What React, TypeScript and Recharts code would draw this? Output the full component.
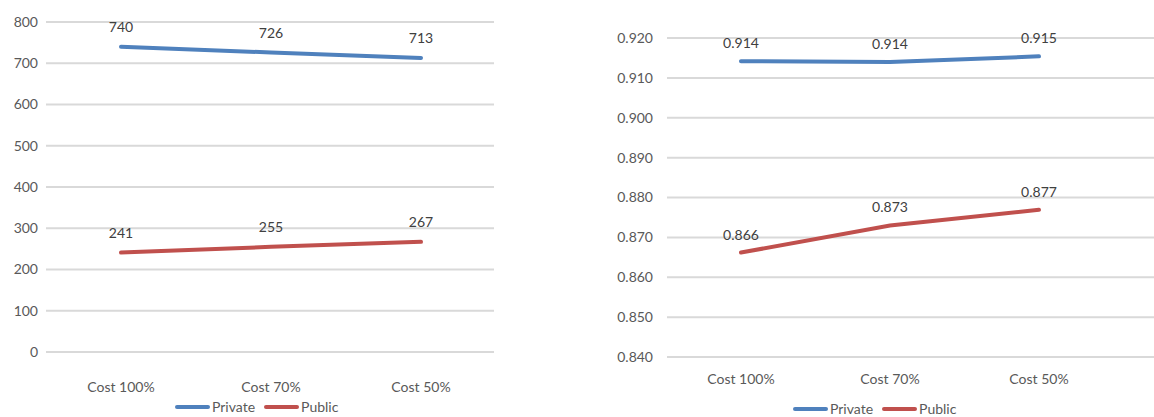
import React from "react";
import { LineChart, Line, XAxis, YAxis, CartesianGrid, LabelList } from "recharts";

const categories = ["Cost 100%", "Cost 70%", "Cost 50%"];

const countPrivate = [740, 726, 713];
const countPublic = [241, 255, 267];
const countTicks = [0, 100, 200, 300, 400, 500, 600, 700, 800];

const ratioPrivate = [0.9142, 0.914, 0.9154];
const ratioPublic = [0.8662, 0.873, 0.8769];
const ratioTicks = [0.84, 0.85, 0.86, 0.87, 0.88, 0.89, 0.9, 0.91, 0.92];

const seriesNames = ["Private", "Public"];
const seriesColors = ["#4f81bd", "#c0504d"];

const FONT = "Lato, 'Open Sans', sans-serif";
const tickStyle = { fill: "#595959", fontSize: 14, fontFamily: FONT };
const labelStyle = { fill: "#404040", fontSize: 14, fontFamily: FONT };

const countData = categories.map((c, i) => ({
  name: c,
  Private: countPrivate[i],
  Public: countPublic[i],
}));

const ratioData = categories.map((c, i) => ({
  name: c,
  Private: ratioPrivate[i],
  Public: ratioPublic[i],
}));

function ChartLegend({ left, top }: { left: number; top: number }) {
  return (
    <div
      style={{
        position: "absolute",
        left,
        top,
        display: "flex",
        alignItems: "center",
        fontFamily: FONT,
        fontSize: 14,
        lineHeight: "14px",
        color: "#595959",
        whiteSpace: "nowrap",
      }}
    >
      {seriesNames.map((n, i) => (
        <div key={n} style={{ display: "flex", alignItems: "center", marginRight: i === 0 ? 9 : 0 }}>
          <span
            style={{
              display: "inline-block",
              width: 35,
              height: 4,
              borderRadius: 2,
              background: seriesColors[i],
              marginRight: 2,
            }}
          />
          <span>{n}</span>
        </div>
      ))}
    </div>
  );
}

export default function App() {
  return (
    <div style={{ position: "absolute", left: 0, top: 0, width: 1154, height: 417, background: "#fff", overflow: "hidden" }}>
      <div style={{ position: "absolute", left: 0, top: 0 }}>
        <LineChart width={580} height={417} data={countData} margin={{ top: 22, right: 86, bottom: 35, left: 0 }}>
          <CartesianGrid vertical={false} stroke="#d9d9d9" strokeWidth={2} />
          <XAxis
            dataKey="name"
            axisLine={false}
            tickLine={false}
            tickSize={0}
            tickMargin={30}
            height={30}
            padding={{ left: 75, right: 73 }}
            tick={tickStyle}
            interval={0}
          />
          <YAxis
            domain={[0, 800]}
            ticks={countTicks}
            axisLine={false}
            tickLine={false}
            tickSize={0}
            tickMargin={8}
            width={46}
            tick={tickStyle}
            interval={0}
          />
          {seriesNames.map((s, i) => (
            <Line
              key={s}
              dataKey={s}
              stroke={seriesColors[i]}
              strokeWidth={4}
              strokeLinecap="round"
              dot={false}
              isAnimationActive={false}
            >
              <LabelList dataKey={s} position="top" offset={15} style={labelStyle} />
            </Line>
          ))}
        </LineChart>
        <ChartLegend left={175} top={400} />
      </div>
      <div style={{ position: "absolute", left: 580, top: 0 }}>
        <LineChart width={574} height={417} data={ratioData} margin={{ top: 38, right: 0, bottom: 30, left: 0 }}>
          <CartesianGrid vertical={false} stroke="#d9d9d9" strokeWidth={2} />
          <XAxis
            dataKey="name"
            axisLine={false}
            tickLine={false}
            tickSize={0}
            tickMargin={17}
            height={30}
            padding={{ left: 74, right: 115 }}
            tick={tickStyle}
            interval={0}
          />
          <YAxis
            domain={[0.84, 0.92]}
            ticks={ratioTicks}
            axisLine={false}
            tickLine={false}
            tickSize={0}
            tickMargin={14}
            width={87}
            tick={tickStyle}
            interval={0}
            tickFormatter={(v: number) => v.toFixed(3)}
          />
          {seriesNames.map((s, i) => (
            <Line
              key={s}
              dataKey={s}
              stroke={seriesColors[i]}
              strokeWidth={4}
              strokeLinecap="round"
              dot={false}
              isAnimationActive={false}
            >
              <LabelList
                dataKey={s}
                position="top"
                offset={13}
                style={labelStyle}
                formatter={(v: number) => v.toFixed(3)}
              />
            </Line>
          ))}
        </LineChart>
        <ChartLegend left={213} top={402} />
      </div>
    </div>
  );
}
